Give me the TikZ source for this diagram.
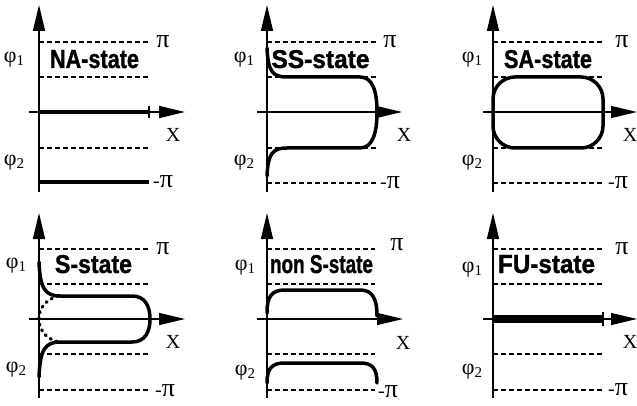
\documentclass[tikz,border=0pt]{standalone}
\usepackage{fontspec}
\usepackage{graphicx}
\setmainfont{Liberation Serif}
\setsansfont{Liberation Sans}
\newfontfamily\statefont[BoldFeatures={FakeBold=1.3}]{Liberation Sans}
\usetikzlibrary{arrows.meta}
\tikzset{
 ax/.style={line width=1.4pt, -{Triangle[length=26pt,width=12pt]}},
 dsh/.style={line width=1.2pt, dash pattern=on 4.5pt off 3.5pt},
 crv/.style={line width=3.5pt, line cap=round},
 dotc/.style={line width=3.2pt, dash pattern=on 1.2pt off 5pt, line cap=round},
 tick/.style={line width=1.4pt},
 lbl/.style={font=\fontsize{20}{24}\selectfont, inner sep=0pt},
 st/.style={inner sep=0pt, anchor=base},
}
\newcommand\stlab[2]{\resizebox{#1}{18pt}{\statefont\bfseries #2}}
\newcommand\phil[1]{{\fontsize{22}{26}\selectfont φ}\raisebox{-3pt}{\fontsize{15}{18}\selectfont #1}}
\newcommand\bigpi{{\fontsize{26}{30}\selectfont π}}
\newcommand\mpi{{\fontsize{20}{24}\selectfont -}\bigpi}
\begin{document}
\begin{tikzpicture}[x=1pt,y=-1pt]
\useasboundingbox (0,0) rectangle (637,406);
% ---------- Panel 1: NA-state
\draw[ax] (39,192) -- (39,5);
\draw[ax] (29,112) -- (185,112);
\foreach \yy in {42,77,148} \draw[dsh] (39,\yy) -- (150,\yy);
\draw[line width=4pt] (39,112) -- (149,112);
\draw[tick] (149,106) -- (149,118);
\draw[line width=4pt] (39,182) -- (149,182);
\node[lbl] (pi1) at (163,42) {\bigpi};
\node[lbl] (mpi1) at (163,182) {\mpi};
\node[lbl] (x1) at (173,135) {X};
\node[lbl] (pa1) at (14,60) {\phil{1}};
\node[lbl] (pb1) at (14,163) {\phil{2}};
\node[st] (s1) at (94.5,68) {\stlab{89pt}{NA-state}};
% ---------- Panel 2: SS-state
\draw[ax] (267,192) -- (267,5);
\draw[ax] (257,112) -- (402,112);
\foreach \yy in {42,77,148,183} \draw[dsh] (267,\yy) -- (378,\yy);
\draw[crv] (267,48) .. controls (268,72) and (273,77) .. (287,77) -- (360,77)
  .. controls (373,77) and (377,92) .. (377,112)
  .. controls (377,132) and (373,148) .. (360,148) -- (287,148)
  .. controls (273,148) and (268,153) .. (267,176);
\node[lbl] (pi2) at (390,42) {\bigpi};
\node[lbl] (mpi2) at (390,183) {\mpi};
\node[lbl] (x2) at (404,135) {X};
\node[lbl] (pa2) at (244,60) {\phil{1}};
\node[lbl] (pb2) at (244,163) {\phil{2}};
\node[st] (s2) at (320.5,68) {\stlab{98pt}{SS-state}};
% ---------- Panel 3: SA-state
\draw[ax] (493,192) -- (493,5);
\draw[ax] (483,112) -- (637,112);
\foreach \yy in {42,77,148,183} \draw[dsh] (493,\yy) -- (605,\yy);
\draw[crv, rounded corners=22pt] (493,77) rectangle (603,148);
\node[lbl] (pi3) at (622,42) {\bigpi};
\node[lbl] (mpi3) at (618,183) {\mpi};
\node[lbl] (x3) at (630,135) {X};
\node[lbl] (pa3) at (472,60) {\phil{1}};
\node[lbl] (pb3) at (472,163) {\phil{2}};
\node[st] (s3) at (548,68) {\stlab{88pt}{SA-state}};
% ---------- Panel 4: S-state
\draw[ax] (39,398) -- (39,213);
\draw[ax] (29,319) -- (185,319);
\foreach \yy in {249,284,354,390} \draw[dsh] (39,\yy) -- (150,\yy);
\draw[crv] (39,262) .. controls (40,288) and (45,296) .. (60,296) -- (132,296)
  .. controls (145,296) and (150,306) .. (150,319)
  .. controls (150,332) and (145,342) .. (132,342) -- (60,342)
  .. controls (45,342) and (40,350) .. (39,377);
\draw[dotc] (58,296) .. controls (44,300) and (39,310) .. (39,319)
  .. controls (39,328) and (44,338) .. (58,342);
\node[lbl] (pi4) at (163,249) {\bigpi};
\node[lbl] (mpi4) at (165,391) {\mpi};
\node[lbl] (x4) at (173,342) {X};
\node[lbl] (pa4) at (16,266) {\phil{1}};
\node[lbl] (pb4) at (16,370) {\phil{2}};
\node[st] (s4) at (93.5,273) {\stlab{77pt}{S-state}};
% ---------- Panel 5: non S-state
\draw[ax] (267,398) -- (267,213);
\draw[ax] (257,319) -- (403,319);
\foreach \yy in {249,284,354,390} \draw[dsh] (267,\yy) -- (375,\yy);
\draw[crv] (267,313) .. controls (267,296) and (272,290) .. (285,290) -- (360,290)
  .. controls (372,290) and (377,298) .. (377,316);
\draw[crv] (267,383) .. controls (267,368) and (272,363) .. (285,363) -- (360,363)
  .. controls (372,363) and (377,368) .. (377,383);
\node[lbl] (pi5) at (397,245) {\bigpi};
\node[lbl] (mpi5) at (388,392) {\mpi};
\node[lbl] (x5) at (403,343) {X};
\node[lbl] (pa5) at (245,268) {\phil{1}};
\node[lbl] (pb5) at (245,373) {\phil{2}};
\node[st] (s5) at (321.5,273) {\stlab{103pt}{non S-state}};
% ---------- Panel 6: FU-state
\draw[ax] (493,398) -- (493,213);
\draw[ax] (483,319) -- (637,319);
\foreach \yy in {249,284,354,390} \draw[dsh] (493,\yy) -- (602,\yy);
\draw[line width=8pt] (493,319) -- (602,319);
\draw[tick] (603,312) -- (603,326);
\node[lbl] (pi6) at (622,249) {\bigpi};
\node[lbl] (mpi6) at (618,390) {\mpi};
\node[lbl] (x6) at (630,342) {X};
\node[lbl] (pa6) at (472,270) {\phil{1}};
\node[lbl] (pb6) at (472,372) {\phil{2}};
\node[st] (s6) at (546.5,273) {\stlab{97pt}{FU-state}};
\end{tikzpicture}
\end{document}
